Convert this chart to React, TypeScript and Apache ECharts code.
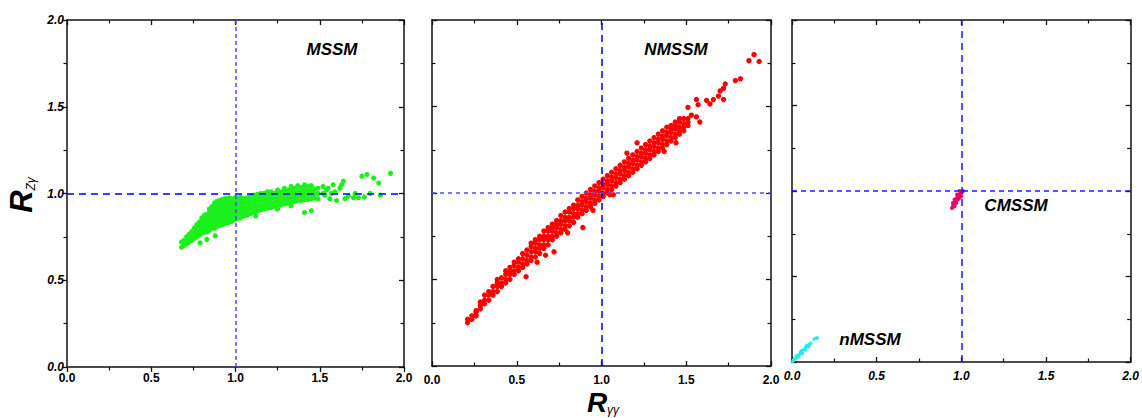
import React, { useEffect, useRef } from "react";
import * as echarts from "echarts";

const tickValues = [0, 0.5, 1.0, 1.5, 2.0];
const panelNames = ["MSSM", "NMSSM", "CMSSM", "nMSSM"];

// MSSM (green) points [R_gammagamma, R_Zgamma]
const mssm: number[][] = [
  [0.68,0.69],[0.68,0.72],[0.695,0.70],[0.695,0.73],[0.71,0.71],[0.71,0.735],[0.71,0.75],[0.725,0.72],[0.725,0.745],[0.725,0.765],
  [0.74,0.73],[0.74,0.755],[0.74,0.78],[0.755,0.74],[0.755,0.76],[0.755,0.785],[0.755,0.80],[0.77,0.75],[0.77,0.775],[0.77,0.80],[0.77,0.82],
  [0.785,0.76],[0.785,0.785],[0.785,0.81],[0.785,0.835],[0.80,0.77],[0.80,0.795],[0.80,0.82],[0.80,0.845],[0.80,0.86],
  [0.815,0.775],[0.815,0.80],[0.815,0.825],[0.815,0.85],[0.815,0.875],[0.83,0.78],[0.83,0.805],[0.83,0.83],[0.83,0.855],[0.83,0.88],
  [0.845,0.79],[0.845,0.815],[0.845,0.84],[0.845,0.865],[0.845,0.89],[0.845,0.91],[0.86,0.80],[0.86,0.825],[0.86,0.85],[0.86,0.875],[0.86,0.90],[0.86,0.925],
  [0.875,0.80],[0.875,0.825],[0.875,0.85],[0.875,0.875],[0.875,0.90],[0.875,0.925],[0.875,0.945],
  [0.89,0.81],[0.89,0.835],[0.89,0.86],[0.89,0.885],[0.89,0.91],[0.89,0.935],[0.89,0.955],
  [0.905,0.815],[0.905,0.84],[0.905,0.865],[0.905,0.89],[0.905,0.915],[0.905,0.94],[0.905,0.96],
  [0.92,0.82],[0.92,0.845],[0.92,0.87],[0.92,0.895],[0.92,0.92],[0.92,0.945],[0.92,0.965],
  [0.935,0.825],[0.935,0.85],[0.935,0.875],[0.935,0.90],[0.935,0.925],[0.935,0.95],[0.935,0.97],
  [0.95,0.83],[0.95,0.855],[0.95,0.88],[0.95,0.905],[0.95,0.93],[0.95,0.955],[0.95,0.97],
  [0.965,0.835],[0.965,0.86],[0.965,0.885],[0.965,0.91],[0.965,0.935],[0.965,0.96],[0.965,0.975],
  [0.98,0.84],[0.98,0.865],[0.98,0.89],[0.98,0.915],[0.98,0.94],[0.98,0.965],
  [0.995,0.85],[0.995,0.875],[0.995,0.90],[0.995,0.925],[0.995,0.95],[0.995,0.975],
  [1.01,0.855],[1.01,0.88],[1.01,0.905],[1.01,0.93],[1.01,0.955],[1.01,0.975],
  [1.03,0.86],[1.03,0.885],[1.03,0.91],[1.03,0.935],[1.03,0.96],[1.03,0.98],
  [1.05,0.87],[1.05,0.895],[1.05,0.92],[1.05,0.945],[1.05,0.97],[1.07,0.875],[1.07,0.90],[1.07,0.925],[1.07,0.95],[1.07,0.975],
  [1.09,0.885],[1.09,0.91],[1.09,0.935],[1.09,0.96],[1.09,0.985],[1.11,0.89],[1.11,0.915],[1.11,0.94],[1.11,0.965],[1.11,0.99],
  [1.13,0.90],[1.13,0.925],[1.13,0.95],[1.13,0.975],[1.13,0.995],[1.15,0.905],[1.15,0.93],[1.15,0.955],[1.15,0.98],[1.15,1.0],
  [1.17,0.91],[1.17,0.935],[1.17,0.96],[1.17,0.985],[1.17,1.0],[1.19,0.915],[1.19,0.94],[1.19,0.965],[1.19,0.99],[1.19,1.01],
  [1.21,0.92],[1.21,0.945],[1.21,0.97],[1.21,0.995],[1.21,1.01],[1.23,0.925],[1.23,0.95],[1.23,0.975],[1.23,1.0],
  [1.25,0.93],[1.25,0.955],[1.25,0.98],[1.25,1.005],[1.25,1.02],[1.27,0.935],[1.27,0.96],[1.27,0.985],[1.27,1.01],
  [1.29,0.94],[1.29,0.965],[1.29,0.99],[1.29,1.015],[1.29,1.03],[1.31,0.945],[1.31,0.97],[1.31,0.995],[1.31,1.02],
  [1.33,0.95],[1.33,0.975],[1.33,1.0],[1.33,1.025],[1.33,1.04],[1.35,0.955],[1.35,0.98],[1.35,1.005],[1.35,1.03],
  [1.37,0.96],[1.37,0.985],[1.37,1.01],[1.37,1.035],[1.37,1.045],[1.39,0.96],[1.39,0.985],[1.39,1.01],[1.39,1.035],
  [1.41,0.965],[1.41,0.99],[1.41,1.015],[1.41,1.04],[1.41,1.05],[1.43,0.965],[1.43,0.99],[1.43,1.015],[1.43,1.04],
  [1.45,0.97],[1.45,0.995],[1.45,1.02],[1.45,1.045],[1.47,0.975],[1.47,1.0],[1.47,1.025],[1.49,0.97],[1.49,1.0],[1.49,1.03],
  [1.52,1.04],[1.52,1.0],[1.53,0.99],[1.54,1.02],[1.55,1.03],[1.56,0.97],[1.57,1.0],[1.58,1.05],[1.59,1.01],[1.60,0.96],[1.62,1.03],[1.63,1.05],[1.64,1.07],[1.65,0.97],
  [1.67,0.985],[1.70,0.975],[1.71,1.0],[1.73,0.975],[1.75,1.10],[1.765,0.98],[1.78,1.11],[1.80,1.0],[1.82,1.09],[1.85,1.06],[1.86,0.99],[1.92,1.116],
  [1.41,0.89],[1.45,0.90],[0.79,0.716],[0.83,0.735],[0.88,0.757],[1.33,0.93],[1.25,0.91],[1.12,0.87]
];

// NMSSM (red) points
const nmssm: number[][] = [
  [0.21,0.25],[0.21,0.27],[0.235,0.27],[0.235,0.29],[0.26,0.29],[0.26,0.31],[0.26,0.32],[0.285,0.33],[0.285,0.35],[0.285,0.37],
  [0.31,0.36],[0.31,0.38],[0.31,0.41],[0.335,0.38],[0.335,0.41],[0.335,0.43],[0.36,0.41],[0.36,0.43],[0.36,0.46],
  [0.385,0.43],[0.385,0.46],[0.385,0.48],[0.385,0.50],[0.41,0.46],[0.41,0.48],[0.41,0.51],
  [0.435,0.48],[0.435,0.50],[0.435,0.53],[0.435,0.55],[0.46,0.50],[0.46,0.53],[0.46,0.55],[0.46,0.57],
  [0.485,0.53],[0.485,0.55],[0.485,0.58],[0.485,0.60],[0.51,0.55],[0.51,0.57],[0.51,0.60],[0.51,0.62],
  [0.535,0.57],[0.535,0.59],[0.535,0.62],[0.535,0.65],[0.56,0.59],[0.56,0.61],[0.56,0.64],[0.56,0.67],
  [0.585,0.61],[0.585,0.63],[0.585,0.66],[0.585,0.69],[0.585,0.71],[0.61,0.63],[0.61,0.66],[0.61,0.68],[0.61,0.71],[0.61,0.73],
  [0.635,0.65],[0.635,0.68],[0.635,0.70],[0.635,0.73],[0.635,0.75],[0.66,0.68],[0.66,0.70],[0.66,0.73],[0.66,0.75],[0.66,0.78],
  [0.685,0.70],[0.685,0.73],[0.685,0.75],[0.685,0.78],[0.685,0.80],[0.71,0.73],[0.71,0.75],[0.71,0.78],[0.71,0.80],[0.71,0.82],
  [0.735,0.75],[0.735,0.77],[0.735,0.80],[0.735,0.82],[0.735,0.84],[0.76,0.77],[0.76,0.79],[0.76,0.82],[0.76,0.84],[0.76,0.87],
  [0.785,0.79],[0.785,0.81],[0.785,0.84],[0.785,0.86],[0.785,0.89],[0.81,0.81],[0.81,0.84],[0.81,0.86],[0.81,0.89],[0.81,0.91],
  [0.835,0.83],[0.835,0.86],[0.835,0.88],[0.835,0.91],[0.835,0.93],[0.86,0.86],[0.86,0.88],[0.86,0.91],[0.86,0.93],[0.86,0.96],
  [0.885,0.88],[0.885,0.90],[0.885,0.93],[0.885,0.95],[0.885,0.98],[0.91,0.90],[0.91,0.92],[0.91,0.95],[0.91,0.97],[0.91,1.00],
  [0.935,0.92],[0.935,0.94],[0.935,0.97],[0.935,0.99],[0.935,1.02],[0.96,0.94],[0.96,0.96],[0.96,0.99],[0.96,1.01],[0.96,1.04],
  [0.985,0.96],[0.985,0.98],[0.985,1.01],[0.985,1.03],[0.985,1.06],[1.01,0.98],[1.01,1.00],[1.01,1.03],[1.01,1.05],[1.01,1.08],
  [1.035,1.00],[1.035,1.02],[1.035,1.05],[1.035,1.07],[1.035,1.10],[1.06,1.02],[1.06,1.04],[1.06,1.07],[1.06,1.09],[1.06,1.12],
  [1.085,1.04],[1.085,1.06],[1.085,1.09],[1.085,1.11],[1.085,1.14],[1.11,1.06],[1.11,1.08],[1.11,1.11],[1.11,1.13],[1.11,1.16],
  [1.135,1.08],[1.135,1.10],[1.135,1.13],[1.135,1.15],[1.135,1.18],[1.16,1.10],[1.16,1.12],[1.16,1.15],[1.16,1.17],[1.16,1.20],
  [1.185,1.12],[1.185,1.14],[1.185,1.17],[1.185,1.19],[1.185,1.22],[1.21,1.14],[1.21,1.16],[1.21,1.19],[1.21,1.21],[1.21,1.24],
  [1.235,1.16],[1.235,1.18],[1.235,1.21],[1.235,1.23],[1.235,1.26],[1.26,1.18],[1.26,1.20],[1.26,1.23],[1.26,1.25],[1.26,1.28],
  [1.285,1.20],[1.285,1.22],[1.285,1.25],[1.285,1.27],[1.285,1.30],[1.31,1.22],[1.31,1.24],[1.31,1.27],[1.31,1.29],[1.31,1.32],
  [1.335,1.24],[1.335,1.26],[1.335,1.29],[1.335,1.31],[1.335,1.34],[1.36,1.26],[1.36,1.28],[1.36,1.31],[1.36,1.33],[1.36,1.36],
  [1.385,1.28],[1.385,1.30],[1.385,1.33],[1.385,1.35],[1.385,1.38],[1.41,1.30],[1.41,1.32],[1.41,1.35],[1.41,1.37],[1.41,1.39],
  [1.435,1.32],[1.435,1.34],[1.435,1.37],[1.435,1.39],[1.435,1.41],[1.46,1.34],[1.46,1.36],[1.46,1.38],[1.46,1.41],[1.46,1.43],
  [1.485,1.36],[1.485,1.38],[1.485,1.40],[1.485,1.43],[1.51,1.39],[1.51,1.41],[1.51,1.43],
  [0.555,0.516],[0.72,0.66],[0.89,0.80],[0.95,0.90],[1.07,0.99],[1.05,0.99],[1.37,1.24],[1.21,1.29],[0.62,0.60],[0.67,0.64],[1.44,1.29],[1.15,1.23],[0.80,0.77],
  [1.51,1.495],[1.53,1.45],[1.56,1.44],[1.58,1.41],[1.56,1.54],[1.57,1.51],[1.62,1.535],[1.64,1.515],[1.66,1.54],[1.69,1.56],[1.72,1.54],[1.70,1.59],[1.72,1.605],[1.73,1.63],[1.79,1.65],[1.82,1.66],[1.87,1.765],[1.90,1.80],[1.93,1.76]
];

// CMSSM (crimson) points
const cmssm: number[][] = [
  [0.945,0.90],[0.95,0.91],[0.955,0.92],[0.96,0.93],[0.965,0.94],[0.97,0.95],[0.975,0.96],[0.98,0.97],[0.99,0.98],[1.0,0.99],[1.01,1.0],[1.005,0.995],
  [0.96,0.91],[0.97,0.93],[0.98,0.95],[0.99,0.96],[1.0,0.97],[0.95,0.93],[0.96,0.95],[0.975,0.98],[0.99,1.0]
];

// nMSSM (cyan) points
const nmssmSmall: number[][] = [
  [0.005,0.005],[0.01,0.015],[0.02,0.02],[0.03,0.03],[0.035,0.04],[0.045,0.045],[0.05,0.055],[0.06,0.06],[0.065,0.07],[0.075,0.075],[0.08,0.085],[0.09,0.09],
  [0.095,0.1],[0.105,0.105],[0.11,0.11],[0.04,0.03],[0.06,0.05],[0.08,0.07],[0.1,0.09],[0.025,0.035],[0.055,0.065],[0.085,0.095],[0.13,0.135],[0.145,0.14],[0.15,0.14]
];

const FONT = "Liberation Sans, Arial, sans-serif";

function axis(gridIndex: number, position: string, showLabel: boolean, italic: boolean, isX: boolean, inside: boolean) {
  return {
    type: "value",
    gridIndex,
    position,
    min: tickValues[0],
    max: tickValues[tickValues.length - 1],
    interval: 0.5,
    axisLine: { show: true, onZero: false, lineStyle: { color: "#111", width: 1.5 } },
    axisTick: { show: true, inside, length: 5, lineStyle: { color: "#111", width: 1.3 } },
    minorTick: { show: true, splitNumber: 2, length: 3.5, lineStyle: { color: "#111", width: 1.2 } },
    splitLine: { show: false },
    minorSplitLine: { show: false },
    axisLabel: {
      show: showLabel,
      formatter: (v: number) => v.toFixed(1),
      fontWeight: "bold",
      fontStyle: italic ? "italic" : "normal",
      fontSize: 12,
      fontFamily: FONT,
      color: "#000",
      margin: inside ? (isX ? 8 : 7) : (isX ? 5 : 3),
    },
  };
}

function refLines(hColor: string, hType: any, vColor: string, vType: any) {
  return {
    silent: true,
    symbol: "none",
    label: { show: false },
    data: [
      { xAxis: 1, lineStyle: { color: vColor, type: vType, width: 1.5 } },
      { yAxis: 1, lineStyle: { color: hColor, type: hType, width: 1.5 } },
    ],
  };
}

export default function App() {
  const ref = useRef<HTMLDivElement>(null);
  useEffect(() => {
    if (!ref.current) return;
    const chart = echarts.init(ref.current, undefined, { renderer: "svg" });
    const grids = [
      { left: 67, top: 20, width: 337, height: 347 },
      { left: 432, top: 20, width: 339, height: 346 },
      { left: 792, top: 20, width: 340, height: 342 },
    ];
    const nameStyle = { fontSize: 17, fontWeight: "bold", fontStyle: "italic", fontFamily: FONT, fill: "#000", textAlign: "center", textVerticalAlign: "middle" };
    const option: any = {
      animation: false,
      backgroundColor: "#fff",
      grid: grids,
      xAxis: [
        axis(0, "bottom", true, false, true, false),
        axis(1, "bottom", true, false, true, true),
        axis(2, "bottom", true, true, true, true),
        axis(0, "top", false, false, true, true),
        axis(1, "top", false, false, true, true),
        axis(2, "top", false, false, true, true),
      ],
      yAxis: [
        axis(0, "left", true, true, false, false),
        axis(1, "left", false, false, false, true),
        axis(2, "left", false, false, false, true),
        axis(0, "right", false, false, false, true),
        axis(1, "right", false, false, false, true),
        axis(2, "right", false, false, false, true),
      ],
      series: [
        {
          name: panelNames[0], type: "scatter", xAxisIndex: 0, yAxisIndex: 0,
          data: mssm, symbolSize: 5.2, itemStyle: { color: "#1cf01c", opacity: 1 },
          markLine: refLines("#0000ee", [7, 5], "#4d4dff", [4, 3]),
        },
        {
          name: panelNames[1], type: "scatter", xAxisIndex: 1, yAxisIndex: 1,
          data: nmssm, symbolSize: 5.4, itemStyle: { color: "#ff0000", opacity: 1 },
          markLine: refLines("#4d4dff", [4, 4], "#0000ee", [7, 5]),
        },
        {
          name: panelNames[2], type: "scatter", xAxisIndex: 2, yAxisIndex: 2,
          data: cmssm, symbolSize: 4, itemStyle: { color: "#ee0066", opacity: 1 },
          markLine: refLines("#1a1aff", [5, 4], "#1a1aff", [7, 5]),
        },
        {
          name: panelNames[3], type: "scatter", xAxisIndex: 2, yAxisIndex: 2,
          data: nmssmSmall, symbolSize: 3.5, itemStyle: { color: "#22eeee", opacity: 1 },
        },
      ],
      graphic: [
        { type: "text", x: 332, y: 49, style: { ...nameStyle, text: panelNames[0] } },
        { type: "text", x: 676, y: 49, style: { ...nameStyle, text: panelNames[1] } },
        { type: "text", x: 1016, y: 205, style: { ...nameStyle, text: panelNames[2] } },
        { type: "text", x: 870, y: 339, style: { ...nameStyle, text: panelNames[3] } },
        {
          type: "text", x: 22, y: 195, rotation: Math.PI / 2,
          style: {
            text: "{r|R}{s|Zγ}",
            textAlign: "center", textVerticalAlign: "middle",
            rich: {
              r: { fontSize: 31, lineHeight: 30, fontWeight: "bold", fontStyle: "italic", fontFamily: FONT, fill: "#000", verticalAlign: "bottom" },
              s: { fontSize: 12, lineHeight: 30, fontStyle: "italic", fontFamily: FONT, fill: "#000", verticalAlign: "bottom" },
            },
          },
        },
        {
          type: "text", x: 603, y: 405,
          style: {
            text: "{r|R}{s|γγ}",
            textAlign: "center", textVerticalAlign: "middle",
            rich: {
              r: { fontSize: 28, lineHeight: 22, fontWeight: "bold", fontStyle: "italic", fontFamily: FONT, fill: "#000", verticalAlign: "bottom" },
              s: { fontSize: 12, lineHeight: 22, fontStyle: "italic", fontFamily: FONT, fill: "#000", verticalAlign: "bottom" },
            },
          },
        },
      ],
    };
    chart.setOption(option);
    return () => chart.dispose();
  }, []);
  return (
    <div
      ref={ref}
      style={{ position: "absolute", left: 0, top: 0, width: 1142, height: 418, background: "#fff" }}
    />
  );
}
